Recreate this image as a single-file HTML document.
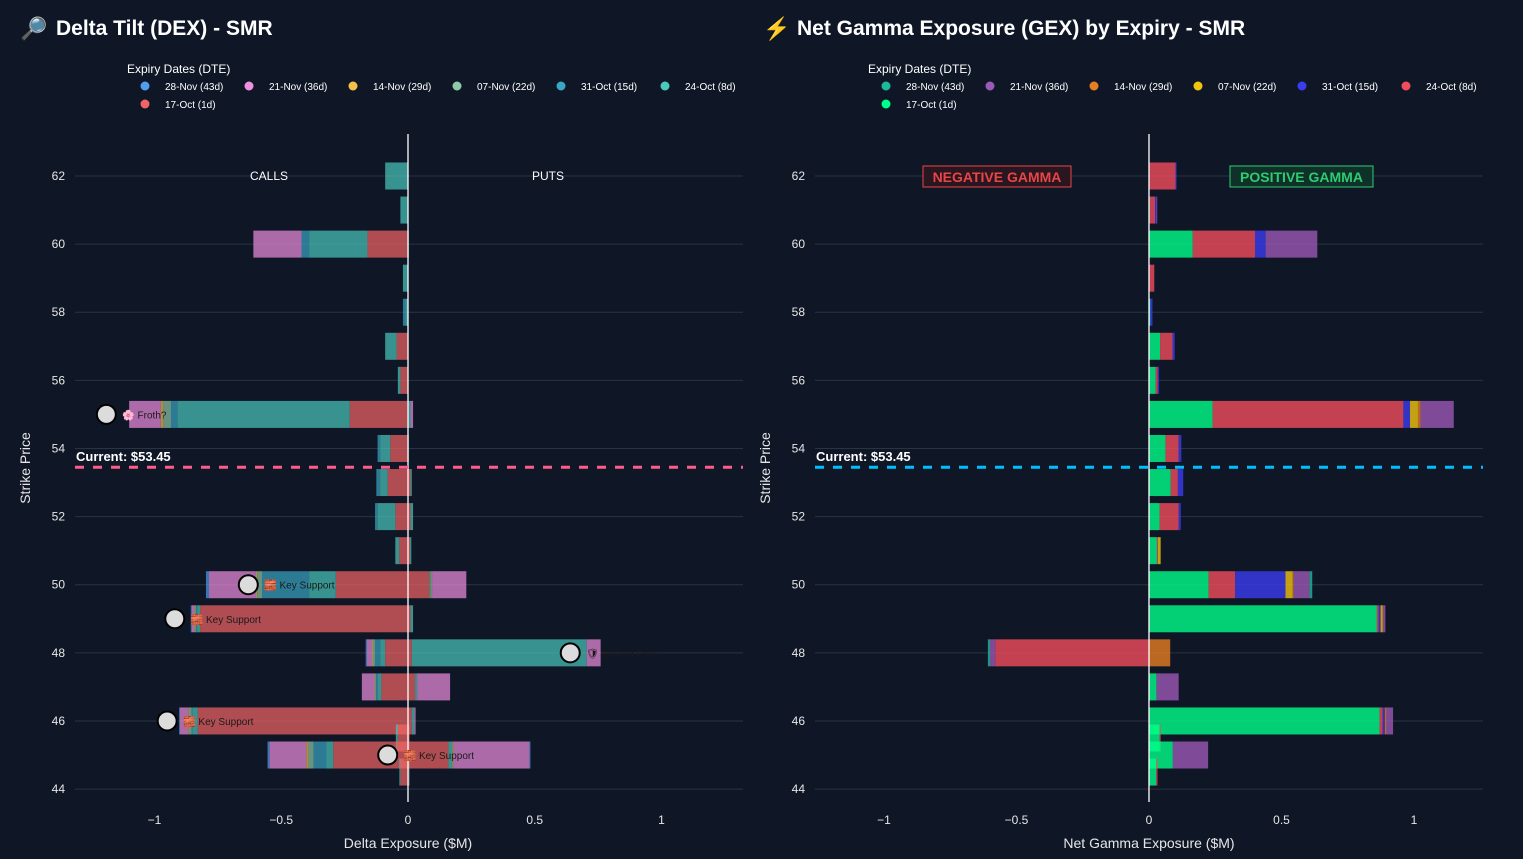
<!DOCTYPE html>
<html><head><meta charset="utf-8">
<style>
html,body{margin:0;padding:0;background:#0f1727;width:1523px;height:859px;overflow:hidden;font-family:"Liberation Sans","Noto Sans CJK SC",sans-serif;}
svg text{font-family:"Liberation Sans","Noto Sans CJK SC",sans-serif;}
</style></head>
<body>
<svg id="root" width="1523" height="859" xmlns="http://www.w3.org/2000/svg">
<rect width="1523" height="859" fill="#0f1727"/>
<g>
<text x="20" y="36" font-size="22">🔎</text>
<text x="56" y="35" font-size="21" font-weight="bold" fill="#ffffff">Delta Tilt (DEX) - SMR</text>
</g>
<g>
<text x="763" y="36" font-size="22" fill="#f5873a">⚡</text>
<text x="797" y="35" font-size="21" font-weight="bold" fill="#ffffff">Net Gamma Exposure (GEX) by Expiry - SMR</text>
</g>
<g id="dex"></g>
<g id="gex"></g>
</svg>
<script>
const expiries = ["17-Oct (1d)","24-Oct (8d)","31-Oct (15d)","07-Nov (22d)","14-Nov (29d)","21-Nov (36d)","28-Nov (43d)"];
const legendOrder = [6,5,4,3,2,1,0];
const strikes = [62,61,60,59,58,57,56,55,54,53,52,51,50,49,48,47,46,45.5,45,44.5];
const yTicks = [44,46,48,50,52,54,56,58,60,62];
const xTicks = [-1,-0.5,0,0.5,1];
const xTickLabels = ["−1","−0.5","0","0.5","1"];
const currentPrice = 53.45;
// DEX series (calls negative, puts positive) — split by sign
const dexNeg = {
 "17-Oct (1d)":[0,0,-0.16,0,0,-0.045,-0.03,-0.23,-0.07,-0.08,-0.05,-0.035,-0.285,-0.82,-0.09,-0.105,-0.83,-0.04,-0.295,-0.03],
 "24-Oct (8d)":[-0.09,-0.03,-0.23,-0.02,-0.01,-0.045,-0.01,-0.68,-0.04,-0.03,-0.07,-0.015,-0.105,-0.012,-0.02,-0.015,-0.02,-0.008,-0.028,-0.004],
 "31-Oct (15d)":[0,0,-0.03,0,-0.01,0,0,-0.025,-0.01,-0.015,-0.01,0,-0.185,-0.004,-0.02,-0.006,-0.004,0,-0.05,0],
 "07-Nov (22d)":[0,0,0,0,0,0,0,-0.03,0,0,0,0,-0.02,-0.004,-0.008,-0.004,-0.008,0,-0.02,0],
 "14-Nov (29d)":[0,0,0,0,0,0,0,-0.01,0,0,0,0,-0.005,-0.003,-0.004,-0.002,-0.003,0,-0.008,0],
 "21-Nov (36d)":[0,0,-0.19,0,0,0,0,-0.125,0,0,0,0,-0.185,-0.01,-0.02,-0.05,-0.035,0,-0.145,0],
 "28-Nov (43d)":[0,0,0,0,0,0,0,0,0,0,0,0,-0.012,-0.004,-0.005,0,-0.003,0,-0.008,0]
};
const dexPos = {
 "17-Oct (1d)":[0,0,0,0,0,0,0,0,0,0.01,0.01,0.008,0.085,0.01,0.015,0.028,0.015,0.006,0.16,0.004],
 "24-Oct (8d)":[0,0,0.003,0,0,0,0,0.01,0.003,0.005,0.01,0.005,0.007,0.01,0.69,0.008,0.01,0,0.015,0.002],
 "31-Oct (15d)":[0,0,0,0,0,0,0,0,0,0,0,0,0,0,0,0,0,0,0,0],
 "07-Nov (22d)":[0,0,0,0,0,0,0,0,0,0,0,0,0,0,0,0,0,0,0,0],
 "14-Nov (29d)":[0,0,0,0,0,0,0,0,0,0,0,0,0.003,0,0,0,0,0,0.004,0],
 "21-Nov (36d)":[0,0,0,0,0,0,0,0.01,0,0,0,0,0.135,0,0.055,0.13,0.005,0,0.3,0],
 "28-Nov (43d)":[0,0,0,0,0,0,0,0,0,0,0,0,0,0,0,0,0,0,0.004,0]
};
const gexNeg = {
 "17-Oct (1d)":strikes.map(()=>0),
 "24-Oct (8d)":[0,0,0,0,0,0,0,0,0,0,0,0,0,0,-0.58,0,0,0,0,0],
 "31-Oct (15d)":strikes.map(()=>0),
 "07-Nov (22d)":strikes.map(()=>0),
 "14-Nov (29d)":strikes.map(()=>0),
 "21-Nov (36d)":[0,0,0,0,0,0,0,0,0,0,0,0,0,0,-0.02,0,0,0,0,0],
 "28-Nov (43d)":[0,0,0,0,0,0,0,0,0,0,0,0,0,0,-0.008,0,0,0,0,0]
};
const gexPos = {
 "17-Oct (1d)":[0,0.003,0.165,0,0.005,0.042,0.025,0.24,0.062,0.082,0.04,0.03,0.225,0.86,0,0.028,0.87,0.04,0.09,0.027],
 "24-Oct (8d)":[0.1,0.02,0.235,0.02,0,0.047,0.008,0.72,0.05,0.027,0.072,0.004,0.1,0.007,0,0,0.012,0.004,0,0.005],
 "31-Oct (15d)":[0.004,0.005,0.04,0,0.008,0.008,0.005,0.025,0.01,0.02,0.008,0,0.19,0.007,0,0,0.008,0,0,0],
 "07-Nov (22d)":[0,0,0,0,0,0,0,0.03,0,0,0,0.01,0.027,0.007,0,0,0,0,0,0],
 "14-Nov (29d)":[0,0,0,0,0,0,0,0.01,0,0,0,0,0.004,0.003,0.08,0,0.006,0,0,0],
 "21-Nov (36d)":[0,0.003,0.195,0,0,0,0,0.125,0,0,0,0,0.06,0.008,0,0.084,0.025,0,0.133,0],
 "28-Nov (43d)":[0,0,0,0,0,0,0,0,0,0,0,0,0.01,0,0,0,0,0,0,0]
};
const dexColors = ["#f36565","#4ac9bd","#3ba5c4","#8fc9a8","#f5c04a","#f08ee0","#4f9ef0"];
const gexColors = ["#00ff88","#f14c5c","#3b3bf0","#f1c40f","#e67e22","#9b59b6","#1fb89a"];
const dexNotes = [
 {s:55,v:-1.19,t:"Froth?",i:"🌸"},{s:50,v:-0.63,t:"Key Support",i:"🧱"},{s:49,v:-0.92,t:"Key Support",i:"🧱"},
 {s:48,v:0.64,t:"Defend Price",i:"🛡"},{s:46,v:-0.95,t:"Key Support",i:"🧱"},{s:45,v:-0.08,t:"Key Support",i:"🧱"}];

const NS="http://www.w3.org/2000/svg";
function mk(p,tag,at){const e=document.createElementNS(NS,tag);for(const k in at)e.setAttribute(k,at[k]);p.appendChild(e);return e;}
const yS = s => 176 + (62 - s) * 34.06;

function chart(gid, cfg){
  const g=document.getElementById(gid);
  const xS = v => cfg.x0 + v*cfg.k;
  // gridlines & y ticks
  yTicks.forEach(s=>{
    const l=mk(g,"line",{x1:cfg.L,x2:cfg.R,y1:yS(s),y2:yS(s),stroke:"#2a3342","stroke-width":1});
    
    
    const t=mk(g,"text",{x:cfg.L-10,y:yS(s)+4,"text-anchor":"end","font-size":12,fill:"#e6e6e6"});
    t.textContent=s;
    
    
  });
  xTicks.forEach((v,i)=>{
    const t=mk(g,"text",{x:xS(v),y:824,"text-anchor":"middle","font-size":12,fill:"#e6e6e6"});
    t.textContent=xTickLabels[i];
    
    
  });
  // bars
  strikes.forEach((s,si)=>{
    let pos=0,neg=0;
    expiries.forEach((e,ei)=>{
      const vn=cfg.neg[e][si], vp=cfg.pos[e][si];
      if(vn<0){const r=mk(g,"rect",{x:xS(neg+vn),y:yS(s)-13.5,width:-vn*cfg.k,height:27,fill:cfg.colors[ei],opacity:cfg.op});
        
        
        neg+=vn;}
      if(vp>0){const r=mk(g,"rect",{x:xS(pos),y:yS(s)-13.5,width:vp*cfg.k,height:27,fill:cfg.colors[ei],opacity:cfg.op});
        
        
        pos+=vp;}
    });
  });
  // zero line
  const z=mk(g,"line",{x1:xS(0),x2:xS(0),y1:134,y2:802,stroke:"#ffffff","stroke-width":1.3});
  
  
  // current price
  const cl=mk(g,"line",{x1:cfg.L,x2:cfg.R,y1:yS(currentPrice),y2:yS(currentPrice),stroke:cfg.cur,"stroke-width":3,"stroke-dasharray":"9,9"});
  
  
  const ct=mk(g,"text",{x:cfg.L+1,y:yS(currentPrice)-6,"font-size":13,"font-weight":"bold",fill:"#ffffff"});
  ct.textContent="Current: $"+currentPrice.toFixed(2);
  
  
  // axis titles
  const yt=mk(g,"text",{x:0,y:0,"font-size":14,fill:"#e6e6e6","text-anchor":"middle",transform:`translate(${cfg.L-45},468) rotate(-90)`});
  yt.textContent="Strike Price";
  
  
  const xt=mk(g,"text",{x:xS(0),y:848,"font-size":14,fill:"#e6e6e6","text-anchor":"middle"});
  xt.textContent=cfg.xtitle;
  
  
  // legend
  const lt=mk(g,"text",{x:cfg.lx,y:73,"font-size":12,fill:"#ffffff"});
  lt.textContent="Expiry Dates (DTE)";
  
  
  legendOrder.forEach((ei,k)=>{
    const cx=cfg.lx+18+(k%6)*104, cy=k<6?87:105;
    const item=mk(g,"g",{});
    
    
    mk(item,"circle",{cx:cx,cy:cy-1,r:4.5,fill:cfg.colors[ei]});
    const tx=mk(item,"text",{x:cx+20,y:cy+3,"font-size":10,fill:"#ffffff"});
    tx.textContent=expiries[ei];
  });
  return xS;
}

const dx = chart("dex",{x0:408,k:253.5,L:75,R:743,neg:dexNeg,pos:dexPos,colors:dexColors,op:0.7,cur:"#ff5c8a",xtitle:"Delta Exposure ($M)",lx:127});
const gx = chart("gex",{x0:1149,k:265,L:815,R:1483,neg:gexNeg,pos:gexPos,colors:gexColors,op:0.8,cur:"#00bfff",xtitle:"Net Gamma Exposure ($M)",lx:868});

// DEX annotations
const dg=document.getElementById("dex");
[["CALLS",269],["PUTS",548]].forEach(([t,x])=>{
  const e=mk(dg,"text",{x:x,y:180,"font-size":12,fill:"#ffffff","text-anchor":"middle"});
  e.textContent=t;
  
  
});
dexNotes.forEach(n=>{
  const x=dx(n.v), y=yS(n.s);
  const c=mk(dg,"circle",{cx:x,cy:y,r:9.5,fill:"#dcdcdc",stroke:"#000",'stroke-width':2});
  
  
  const t=mk(dg,"text",{x:x+16,y:y+4,"font-size":10,fill:"#1a1a1a"});
  t.textContent=n.i+" "+n.t;
  
  
});
// GEX boxes
const gg=document.getElementById("gex");
[["NEGATIVE GAMMA",923,148,"#e84545","#2a1620"],["POSITIVE GAMMA",1230,143,"#2ecc71","#10302a"]].forEach(([t,x,w,c,bg])=>{
  const b=mk(gg,"g",{});
  
  
  mk(b,"rect",{x:x,y:166,width:w,height:21,fill:bg,stroke:c,"stroke-width":1});
  const e=mk(b,"text",{x:x+w/2,y:182,"font-size":14,"font-weight":"bold",fill:c,"text-anchor":"middle"});
  e.textContent=t;
});
</script>
</body></html>
